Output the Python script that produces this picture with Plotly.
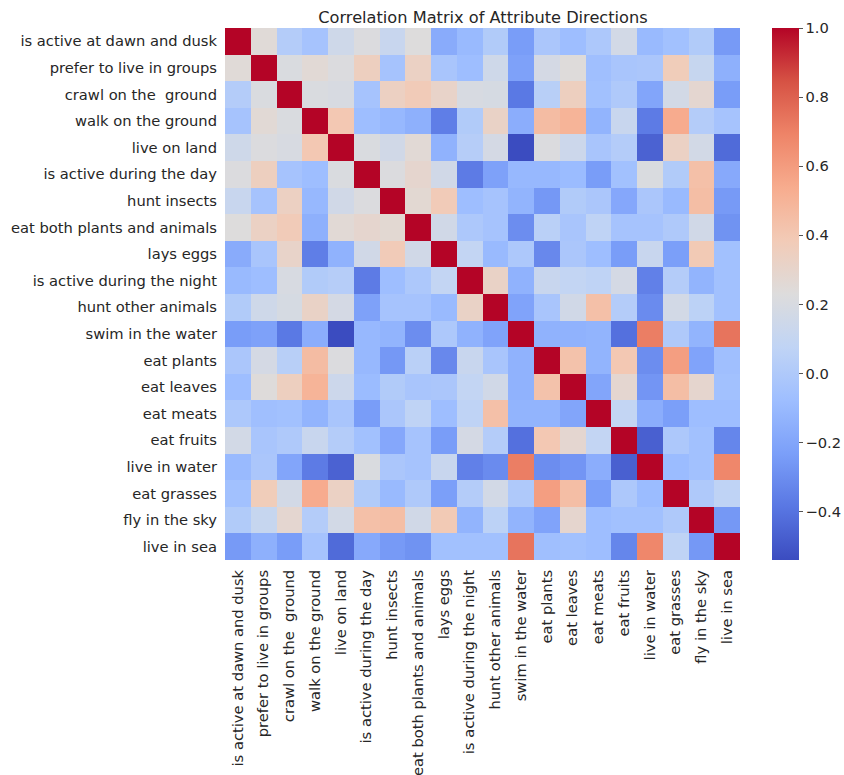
import plotly.graph_objects as go

attributes = [
    "is active at dawn and dusk", "prefer to live in groups", "crawl on the  ground",
    "walk on the ground", "live on land", "is active during the day", "hunt insects",
    "eat both plants and animals", "lays eggs", "is active during the night",
    "hunt other animals", "swim in the water", "eat plants", "eat leaves", "eat meats",
    "eat fruits", "live in water", "eat grasses", "fly in the sky", "live in sea",
]

# upper triangle of the matrix, each row starts at the diagonal
dawn_dusk = [1, 0.25, 0.02, -0.04, 0.15, 0.22, 0.12, 0.23, -0.17, -0.10, 0.01, -0.24, -0.02, -0.08, -0.01, 0.17, -0.10, -0.06, 0.01, -0.25]
groups = [1, 0.21, 0.26, 0.22, 0.35, -0.04, 0.33, -0.03, -0.08, 0.15, -0.22, 0.18, 0.24, -0.07, -0.03, -0.02, 0.37, 0.11, -0.15]
crawl = [1, 0.21, 0.20, -0.04, 0.34, 0.38, 0.31, 0.20, 0.19, -0.38, 0.04, 0.35, -0.06, 0.00, -0.20, 0.17, 0.28, -0.24]
walk = [1, 0.40, -0.08, -0.11, -0.15, -0.36, 0.01, 0.32, -0.16, 0.46, 0.50, -0.13, 0.12, -0.37, 0.54, 0.02, -0.04]
land = [1, 0.21, 0.16, 0.26, -0.14, 0.03, 0.18, -0.54, 0.22, 0.14, -0.03, 0.02, -0.46, 0.33, 0.17, -0.43]
day = [1, 0.22, 0.29, 0.16, -0.37, -0.22, -0.11, -0.11, -0.09, -0.24, -0.06, 0.21, 0.01, 0.44, -0.18]
insects = [1, 0.27, 0.38, -0.08, -0.04, -0.13, -0.26, 0.01, -0.02, -0.19, -0.02, -0.10, 0.45, -0.25]
both = [1, 0.16, -0.01, -0.04, -0.30, 0.05, -0.03, 0.07, -0.04, -0.04, 0.00, 0.16, -0.28]
eggs = [1, 0.09, -0.10, -0.01, -0.32, -0.02, -0.08, -0.24, 0.12, -0.23, 0.39, -0.06]
night = [1, 0.32, -0.14, 0.12, 0.09, 0.07, 0.18, -0.35, 0.02, -0.13, -0.06]
other_animals = [1, -0.21, -0.03, 0.16, 0.44, 0.02, -0.31, 0.17, 0.06, -0.06]
swim = [1, -0.14, -0.14, -0.13, -0.41, 0.71, 0.00, -0.13, 0.74]
plants = [1, 0.43, -0.13, 0.40, -0.30, 0.59, -0.21, -0.07]
leaves = [1, -0.20, 0.28, -0.27, 0.45, 0.29, -0.06]
meats = [1, 0.09, -0.16, -0.23, -0.08, -0.08]
fruits = [1, -0.47, -0.01, -0.06, -0.33]
in_water = [1, -0.09, -0.06, 0.68]
grasses = [1, 0.00, 0.07]
fly = [1, -0.26]
sea = [1]

rows = [dawn_dusk, groups, crawl, walk, land, day, insects, both, eggs, night,
        other_animals, swim, plants, leaves, meats, fruits, in_water, grasses, fly, sea]

n = len(attributes)
corr = [[0] * n for _ in range(n)]
for i, row in enumerate(rows):
    for k, v in enumerate(row):
        corr[i][i + k] = v
        corr[i + k][i] = v

# matplotlib coolwarm
coolwarm = [
    [0.0, "#3b4cc0"], [0.1, "#5977e3"], [0.2, "#7b9ff9"], [0.3, "#9ebeff"],
    [0.4, "#c0d4f5"], [0.5, "#dddcdc"], [0.6, "#f2cbb7"], [0.7, "#f7ac8e"],
    [0.8, "#ee8468"], [0.9, "#d65244"], [1.0, "#b40426"],
]

W, H = 844, 775
LEFT, RIGHT, TOP, BOTTOM = 225, 740, 28, 560
INK = "#262626"
FONT = "DejaVu Sans"

fig = go.Figure(go.Heatmap(
    z=corr,
    x=attributes,
    y=attributes,
    zmin=-0.54,
    zmax=1,
    colorscale=coolwarm,
    colorbar=dict(
        x=(772 - LEFT) / (RIGHT - LEFT), xanchor="left", xpad=0,
        y=1, yanchor="top", ypad=0,
        len=1, lenmode="fraction",
        thickness=27, thicknessmode="pixels",
        outlinewidth=0,
        tickvals=[-0.4, -0.2, 0, 0.2, 0.4, 0.6, 0.8, 1.0],
        ticktext=["\u22120.4", "\u22120.2", "0.0", "0.2", "0.4", "0.6", "0.8", "1.0"],
        ticks="outside", ticklen=4, tickcolor="#555555", tickwidth=1,
        tickfont=dict(family=FONT, size=14.7, color=INK),
    ),
))

fig.update_layout(
    width=W,
    height=H,
    margin=dict(l=LEFT, r=W - RIGHT, t=TOP, b=H - BOTTOM, pad=0, autoexpand=False),
    paper_bgcolor="white",
    plot_bgcolor="white",
    font=dict(family=FONT, color=INK),
    title=dict(
        text="Correlation Matrix of Attribute Directions",
        xref="container", x=483 / W, xanchor="center",
        yref="container", y=1 - 17 / H, yanchor="middle",
        font=dict(family=FONT, size=16.2, color=INK),
    ),
    xaxis=dict(
        tickangle=-90,
        tickmode="array", tickvals=attributes, ticktext=attributes,
        tickfont=dict(family=FONT, size=14.7, color=INK),
        ticks="", showgrid=False, zeroline=False, showline=False,
        ticklabelstandoff=6, automargin=False,
    ),
    yaxis=dict(
        autorange="reversed",
        tickmode="array", tickvals=attributes, ticktext=attributes,
        tickfont=dict(family=FONT, size=14.7, color=INK),
        ticks="", showgrid=False, zeroline=False, showline=False,
        ticklabelstandoff=7, automargin=False,
    ),
)

fig.write_html("out.html", config={"displayModeBar": False},
               post_script="document.body.style.margin='0';")
